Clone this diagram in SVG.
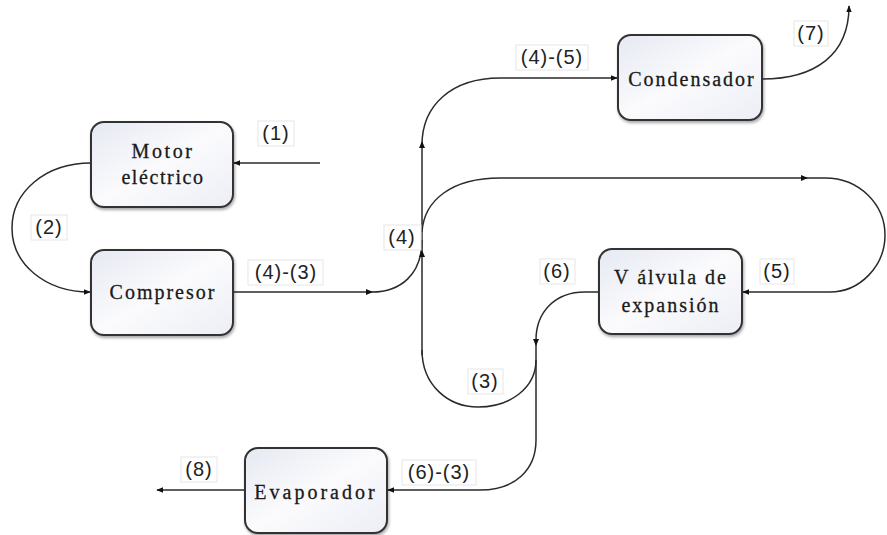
<svg xmlns="http://www.w3.org/2000/svg" width="887" height="535" viewBox="0 0 887 535">
<defs>
<linearGradient id="g" x1="0" y1="0" x2="1" y2="1">
<stop offset="0" stop-color="#e6e9f2"/>
<stop offset="0.5" stop-color="#fbfbfd"/>
<stop offset="1" stop-color="#eceef5"/>
</linearGradient>
<filter id="sh" x="-10%" y="-10%" width="125%" height="130%">
<feDropShadow dx="1" dy="2" stdDeviation="1.5" flood-color="#000" flood-opacity="0.35"/>
</filter>
<marker id="ah" viewBox="0 0 10 10" refX="9" refY="5" markerWidth="7" markerHeight="7" markerUnits="userSpaceOnUse" orient="auto">
<path d="M0,1 L10,5 L0,9 z" fill="#111"/>
</marker>
</defs>
<style>
.box{fill:url(#g);stroke:#333;stroke-width:2;filter:url(#sh)}
.nt{font-family:"Liberation Serif","Times New Roman","DejaVu Serif",serif;font-size:20px;fill:#1a1a1a;stroke:#1a1a1a;stroke-width:0.3;text-anchor:middle;letter-spacing:2px}
.ln{fill:none;stroke:#2a2a2a;stroke-width:1.5}
.lb{font-family:"Liberation Sans",Arial,sans-serif;font-size:20px;fill:#222;text-anchor:middle;letter-spacing:1px}
.lr{fill:#fff;stroke:#e6e6e6;stroke-width:1}
.tip{fill:#111}
</style>
<rect width="887" height="535" fill="#fff"/>

<g id="connectors">
<!-- (1) -->
<path class="ln" d="M320,163 H234" marker-end="url(#ah)"/>
<!-- (2) -->
<path class="ln" d="M91,163 C45,163 12,192 12,228 C12,264 45,292 90,292" marker-end="url(#ah)"/>
<!-- (4)-(3) -->
<path class="ln" d="M233,292 H372 C400,292 422,275 422,240"/>
<path class="tip" d="M373,292 L366,289 L366,295 z"/>
<!-- main vertical -->
<path class="ln" d="M422,355 V145 C422,105 452,78 500,78 H617" marker-end="url(#ah)"/>
<path class="tip" d="M422,250 L419,257 L425,257 z"/>
<path class="tip" d="M422,141 L419,148 L425,148 z"/>
<!-- (3) loop -->
<path class="ln" d="M422,350 C422,385 448,407 478,407 C510,407 536,388 536,360"/>
<!-- branch to (5) -->
<path class="ln" d="M422,232 C424,200 452,178 500,178 H825 C860,178 885,205 885,235 C885,266 860,292 830,292 H743" marker-end="url(#ah)"/>
<path class="tip" d="M808,178 L801,175 L801,181 z"/>
<!-- (7) -->
<path class="ln" d="M762,79 C815,79 849,55 849,6" marker-end="url(#ah)"/>
<!-- (6) -->
<path class="ln" d="M599,292 H585 C555,292 536,312 536,340 V440 C536,470 515,490 480,490 H388" marker-end="url(#ah)"/>
<path class="tip" d="M536,346 L533,339 L539,339 z"/>
<!-- (8) -->
<path class="ln" d="M245,490 H157" marker-end="url(#ah)"/>
</g>

<g id="labels">
<rect class="lr" x="258" y="121" width="36" height="25"/><text class="lb" x="276" y="140">(1)</text>
<rect class="lr" x="31" y="215" width="36" height="25"/><text class="lb" x="49" y="234">(2)</text>
<rect class="lr" x="248" y="260" width="75" height="25"/><text class="lb" x="286" y="279">(4)-(3)</text>
<rect class="lr" x="384" y="225" width="37" height="25"/><text class="lb" x="402" y="244">(4)</text>
<rect class="lr" x="516" y="45" width="72" height="25"/><text class="lb" x="552" y="64">(4)-(5)</text>
<rect class="lr" x="794" y="21" width="34" height="25"/><text class="lb" x="811" y="40">(7)</text>
<rect class="lr" x="540" y="259" width="35" height="25"/><text class="lb" x="557" y="278">(6)</text>
<rect class="lr" x="760" y="259" width="34" height="25"/><text class="lb" x="777" y="278">(5)</text>
<rect class="lr" x="468" y="369" width="35" height="25"/><text class="lb" x="485" y="388">(3)</text>
<rect class="lr" x="402" y="460" width="74" height="25"/><text class="lb" x="439" y="479">(6)-(3)</text>
<rect class="lr" x="181" y="457" width="36" height="25"/><text class="lb" x="199" y="476">(8)</text>
</g>

<g id="motor">
<rect class="box" x="91" y="122" width="142" height="85" rx="13"/>
<text class="nt" x="163" y="158" style="letter-spacing:2.6px">Motor</text>
<text class="nt" x="163" y="184" style="letter-spacing:1.6px">eléctrico</text>
</g>
<g id="compresor">
<rect class="box" x="91" y="250" width="142" height="85" rx="13"/>
<text class="nt" x="163" y="299">Compresor</text>
</g>
<g id="condensador">
<rect class="box" x="618" y="35" width="144" height="85" rx="13"/>
<text class="nt" x="692" y="86">Condensador</text>
</g>
<g id="valvula">
<rect class="box" x="599" y="249" width="143" height="85" rx="13"/>
<text class="nt" x="671" y="284">V álvula de</text>
<text class="nt" x="671" y="312">expansión</text>
</g>
<g id="evaporador">
<rect class="box" x="245" y="448" width="142" height="85" rx="13"/>
<text class="nt" x="316" y="499" style="letter-spacing:3px">Evaporador</text>
</g>
</svg>
